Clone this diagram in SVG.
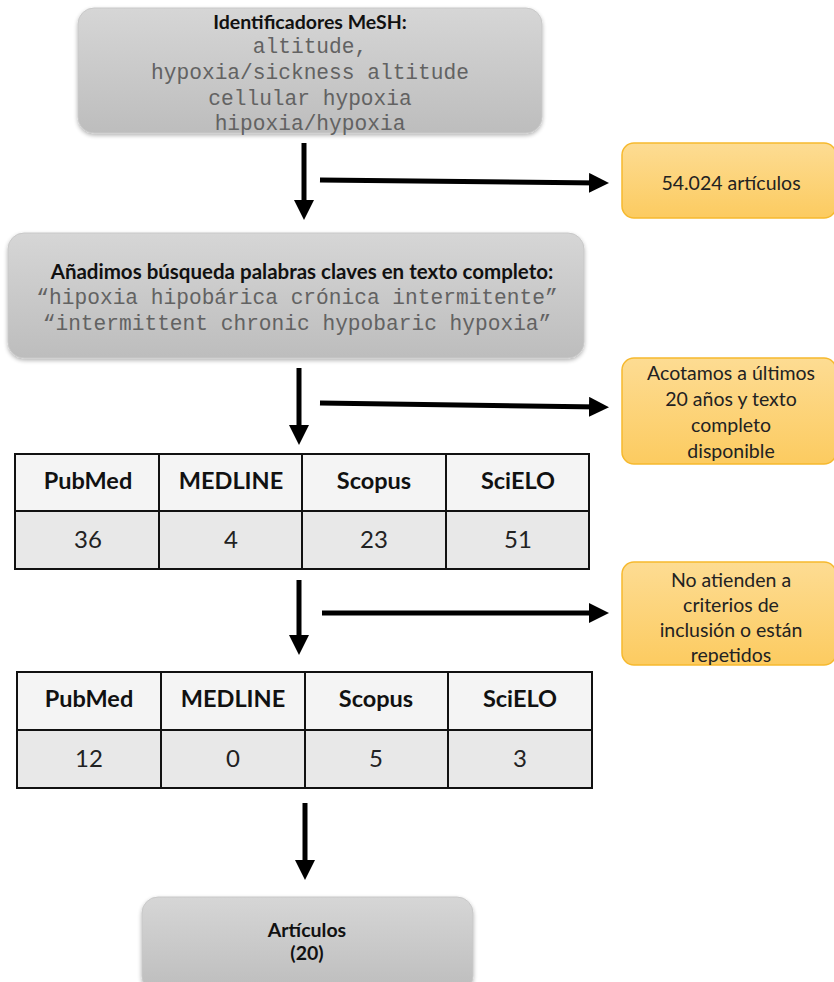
<svg xmlns="http://www.w3.org/2000/svg" width="834" height="982" viewBox="0 0 834 982">
<defs>
<linearGradient id="gGray" x1="0" y1="0" x2="0" y2="1">
<stop offset="0" stop-color="#d6d6d6"/>
<stop offset="1" stop-color="#bdbdbd"/>
</linearGradient>
<linearGradient id="gYel" x1="0" y1="0" x2="0" y2="1">
<stop offset="0" stop-color="#fddc93"/>
<stop offset="1" stop-color="#fccb60"/>
</linearGradient>
<filter id="sh" x="-5%" y="-10%" width="110%" height="130%">
<feGaussianBlur in="SourceAlpha" stdDeviation="2"/>
<feOffset dx="0" dy="2" result="b"/>
<feComponentTransfer><feFuncA type="linear" slope="0.3"/></feComponentTransfer>
<feMerge><feMergeNode/><feMergeNode in="SourceGraphic"/></feMerge>
</filter>
<marker id="ah" markerWidth="4" markerHeight="4" refX="2.2" refY="2" orient="auto" markerUnits="strokeWidth">
<path d="M0,0 L4,2 L0,4 z" fill="#000"/>
</marker>
</defs>
<style>
.gray{fill:url(#gGray);stroke:#c8c8c8;stroke-width:1;filter:url(#sh)}
.yel{fill:url(#gYel);stroke:#f6b92e;stroke-width:1.5}
.tb{font-family:Lato,"Open Sans",sans-serif;font-weight:bold;fill:#111;text-anchor:middle}
.mono{font-family:"Liberation Mono","Courier New",monospace;fill:#626262;text-anchor:middle;font-size:21.2px}
.yt{font-family:Lato,"Open Sans",sans-serif;fill:#222;text-anchor:middle;font-size:19.5px}
.hd{fill:#f4f4f4;stroke:#111;stroke-width:2}
.dt{fill:#e8e8e8;stroke:#111;stroke-width:2}
.th{font-family:Lato,"Open Sans",sans-serif;font-weight:bold;fill:#111;text-anchor:middle;font-size:23.5px}
.td{font-family:Lato,"Open Sans",sans-serif;fill:#222;text-anchor:middle;font-size:24px}
.arr{stroke:#000;stroke-width:5;fill:none;marker-end:url(#ah)}
</style>

<g id="connectors">
<line class="arr" x1="304" y1="143" x2="304" y2="211"/>
<line class="arr" x1="320" y1="180" x2="600" y2="183"/>
<line class="arr" x1="299" y1="368" x2="299" y2="436"/>
<line class="arr" x1="320" y1="403" x2="600" y2="407"/>
<line class="arr" x1="299" y1="580" x2="299" y2="646"/>
<line class="arr" x1="322" y1="613" x2="600" y2="613"/>
<line class="arr" x1="305" y1="803" x2="305" y2="871"/>
</g>

<g id="mesh">
<rect class="gray" x="78" y="8" width="464" height="125" rx="16"/>
<text class="tb" x="310" y="29" font-size="19.5px">Identificadores MeSH:</text>
<text class="mono" x="310" y="53">altitude,</text>
<text class="mono" x="310" y="79">hypoxia/sickness altitude</text>
<text class="mono" x="310" y="105">cellular hypoxia</text>
<text class="mono" x="310" y="130">hipoxia/hypoxia</text>
</g>

<g id="n54024">
<rect class="yel" x="622" y="143" width="214" height="75" rx="12"/>
<text class="yt" x="731" y="190">54.024 artículos</text>
</g>

<g id="keywords">
<rect class="gray" x="8" y="233" width="576" height="125" rx="16"/>
<text class="tb" x="302" y="279" font-size="20.5px">Añadimos búsqueda palabras claves en texto completo:</text>
<text class="mono" x="297" y="304">“hipoxia hipobárica crónica intermitente”</text>
<text class="mono" x="297" y="330">“intermittent chronic hypobaric hypoxia”</text>
</g>

<g id="acotamos">
<rect class="yel" x="622" y="358" width="214" height="106" rx="12"/>
<text class="yt" x="731" y="380">Acotamos a últimos</text>
<text class="yt" x="731" y="406">20 años y texto</text>
<text class="yt" x="731" y="432">completo</text>
<text class="yt" x="731" y="458">disponible</text>
</g>

<g id="table1">
<rect class="hd" x="15" y="454" width="144" height="57"/>
<rect class="hd" x="159" y="454" width="143" height="57"/>
<rect class="hd" x="302" y="454" width="144" height="57"/>
<rect class="hd" x="446" y="454" width="143" height="57"/>
<rect class="dt" x="15" y="511" width="144" height="58"/>
<rect class="dt" x="159" y="511" width="143" height="58"/>
<rect class="dt" x="302" y="511" width="144" height="58"/>
<rect class="dt" x="446" y="511" width="143" height="58"/>
<text class="th" x="88" y="489">PubMed</text>
<text class="th" x="231" y="489">MEDLINE</text>
<text class="th" x="374" y="489">Scopus</text>
<text class="th" x="518" y="489">SciELO</text>
<text class="td" x="88" y="548">36</text>
<text class="td" x="231" y="548">4</text>
<text class="td" x="374" y="548">23</text>
<text class="td" x="518" y="548">51</text>
</g>

<g id="excluidos">
<rect class="yel" x="622" y="562" width="214" height="103" rx="12"/>
<text class="yt" x="731" y="587">No atienden a</text>
<text class="yt" x="731" y="612">criterios de</text>
<text class="yt" x="731" y="637">inclusión o están</text>
<text class="yt" x="731" y="662">repetidos</text>
</g>

<g id="table2">
<rect class="hd" x="17" y="672" width="144" height="58"/>
<rect class="hd" x="161" y="672" width="144" height="58"/>
<rect class="hd" x="305" y="672" width="143" height="58"/>
<rect class="hd" x="448" y="672" width="144" height="58"/>
<rect class="dt" x="17" y="730" width="144" height="58"/>
<rect class="dt" x="161" y="730" width="144" height="58"/>
<rect class="dt" x="305" y="730" width="143" height="58"/>
<rect class="dt" x="448" y="730" width="144" height="58"/>
<text class="th" x="89" y="707">PubMed</text>
<text class="th" x="233" y="707">MEDLINE</text>
<text class="th" x="376" y="707">Scopus</text>
<text class="th" x="520" y="707">SciELO</text>
<text class="td" x="89" y="767">12</text>
<text class="td" x="233" y="767">0</text>
<text class="td" x="376" y="767">5</text>
<text class="td" x="520" y="767">3</text>
</g>

<g id="articulos">
<rect class="gray" x="142" y="897" width="331" height="95" rx="16"/>
<text class="tb" x="307" y="937" font-size="19.5px">Artículos</text>
<text class="tb" x="307" y="960" font-size="19.5px">(20)</text>
</g>
</svg>
